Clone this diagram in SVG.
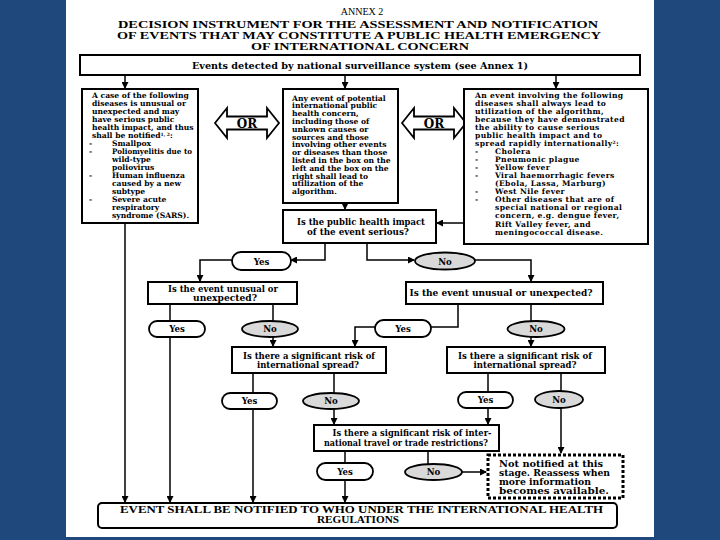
<svg xmlns="http://www.w3.org/2000/svg" width="720" height="540" viewBox="0 0 720 540">
<style>
.bg{fill:#1F497D}
.box{fill:#fff;stroke:#000;stroke-width:2}
.conn{stroke:#000;stroke-width:1.5;fill:none}
.ovy{fill:#fff;stroke:#000;stroke-width:1.8}
.ovn{fill:#d9d9d9;stroke:#000;stroke-width:1.8}
.dot{fill:#fff;stroke:#000;stroke-width:3;stroke-dasharray:3 2}
.orar{fill:#fff;stroke:#000;stroke-width:1.8;stroke-linejoin:miter}
text{font-family:"DejaVu Serif","Liberation Serif",serif;font-weight:bold;fill:#000}
.bt{font-size:7.6px}
.btr{font-size:7.6px;letter-spacing:0.35px}
.q{font-size:8.6px;text-anchor:middle}
.o{font-size:8.6px;text-anchor:middle}
.ttl{font-family:"Liberation Serif",serif;font-size:11px;text-anchor:middle}
.fin{font-family:"Liberation Serif",serif;font-size:9.5px;text-anchor:middle}
.nn{font-size:8.8px}
.or{font-size:12px;text-anchor:middle}
.sup{font-size:4.5px}
</style>
<defs>
<marker id="ah" markerWidth="7" markerHeight="7" refX="6" refY="3.5" orient="auto" markerUnits="userSpaceOnUse">
<path d="M0,0 L7,3.5 L0,7 Z" fill="#000"/>
</marker>
</defs>
<rect x="0" y="0" width="720" height="540" class="bg"/>
<rect x="66" y="0" width="588" height="537" fill="#fff"/>

<g id="title">
<text class="ttl" x="362" y="15" style="font-weight:normal;font-size:10px">ANNEX 2</text>
<text class="ttl" x="358" y="27.5" textLength="480" lengthAdjust="spacingAndGlyphs">DECISION INSTRUMENT FOR THE ASSESSMENT AND NOTIFICATION</text>
<text class="ttl" x="359" y="38.5" textLength="484" lengthAdjust="spacingAndGlyphs">OF EVENTS THAT MAY CONSTITUTE A PUBLIC HEALTH EMERGENCY</text>
<text class="ttl" x="360" y="49.5" textLength="218" lengthAdjust="spacingAndGlyphs">OF INTERNATIONAL CONCERN</text>
</g>

<g id="connectors">
<line class="conn" x1="125" y1="75" x2="125" y2="88" marker-end="url(#ah)"/>
<line class="conn" x1="345" y1="75" x2="345" y2="88" marker-end="url(#ah)"/>
<line class="conn" x1="556" y1="75" x2="556" y2="88" marker-end="url(#ah)"/>
<line class="conn" x1="125" y1="223" x2="125" y2="502" marker-end="url(#ah)"/>
<line class="conn" x1="345" y1="203" x2="345" y2="209" marker-end="url(#ah)"/>
<line class="conn" x1="464" y1="223" x2="437" y2="223" marker-end="url(#ah)"/>
<polyline class="conn" points="325,243 325,260 291,260" marker-end="url(#ah)"/>
<polyline class="conn" points="232,260 200,260 200,281" marker-end="url(#ah)"/>
<polyline class="conn" points="367,243 367,260 414,260" marker-end="url(#ah)"/>
<polyline class="conn" points="475,260 531,260 531,281" marker-end="url(#ah)"/>
<line class="conn" x1="170" y1="304" x2="170" y2="321"/>
<line class="conn" x1="170" y1="337" x2="170" y2="502" marker-end="url(#ah)"/>
<line class="conn" x1="273" y1="304" x2="273" y2="321"/>
<line class="conn" x1="273" y1="337" x2="273" y2="346" marker-end="url(#ah)"/>
<polyline class="conn" points="458,304 458,327 431,327"/>
<polyline class="conn" points="375,327 355,327 355,346" marker-end="url(#ah)"/>
<line class="conn" x1="531" y1="304" x2="531" y2="321"/>
<line class="conn" x1="531" y1="337" x2="531" y2="346" marker-end="url(#ah)"/>
<line class="conn" x1="253" y1="373" x2="253" y2="393"/>
<line class="conn" x1="253" y1="409" x2="253" y2="502" marker-end="url(#ah)"/>
<line class="conn" x1="334" y1="373" x2="334" y2="393"/>
<line class="conn" x1="334" y1="409" x2="334" y2="424" marker-end="url(#ah)"/>
<line class="conn" x1="488" y1="373" x2="488" y2="392"/>
<line class="conn" x1="488" y1="408" x2="488" y2="424" marker-end="url(#ah)"/>
<line class="conn" x1="561" y1="373" x2="561" y2="391"/>
<line class="conn" x1="561" y1="408" x2="561" y2="453" marker-end="url(#ah)"/>
<line class="conn" x1="345" y1="451" x2="345" y2="463"/>
<line class="conn" x1="345" y1="480" x2="345" y2="502" marker-end="url(#ah)"/>
<line class="conn" x1="428" y1="451" x2="428" y2="464"/>
<line class="conn" x1="462" y1="472" x2="486" y2="472" marker-end="url(#ah)"/>
</g>

<g id="top">
<rect class="box" x="80" y="55" width="560" height="20"/>
<text x="360" y="68.5" style="font-size:8.6px;text-anchor:middle" textLength="336" lengthAdjust="spacingAndGlyphs">Events detected by national surveillance system (see Annex 1)</text>
</g>

<g id="left-box">
<rect class="box" x="82" y="89" width="116" height="134"/>
<g class="bt">
<text x="92" y="98">A case of the following</text>
<text x="92" y="106">diseases is unusual or</text>
<text x="92" y="114">unexpected and may</text>
<text x="92" y="122">have serious public</text>
<text x="92" y="130">health impact, and thus</text>
<text x="92" y="138">shall be notified<tspan class="sup" dy="-2.2">1, 2</tspan><tspan dy="2.2">:</tspan></text>
<text x="89" y="146">-</text><text x="112" y="146">Smallpox</text>
<text x="89" y="154">-</text><text x="112" y="154" textLength="80" lengthAdjust="spacingAndGlyphs">Poliomyelitis due to</text>
<text x="112" y="162">wild-type</text>
<text x="112" y="170">poliovirus</text>
<text x="89" y="178">-</text><text x="112" y="178">Human influenza</text>
<text x="112" y="186">caused by a new</text>
<text x="112" y="194">subtype</text>
<text x="89" y="202">-</text><text x="112" y="202">Severe acute</text>
<text x="112" y="210">respiratory</text>
<text x="112" y="218">syndrome (SARS).</text>
</g>
</g>

<g id="or-left">
<polygon class="orar" points="215,123 227,108 227,116.5 267,116.5 267,108 279,123 267,138 267,129.5 227,129.5 227,138"/>
<text class="or" x="247" y="127.5">OR</text>
</g>

<g id="middle-box">
<rect class="box" x="283" y="89" width="115" height="114"/>
<g class="bt">
<text x="292" y="100.5">Any event of potential</text>
<text x="292" y="108.3">international public</text>
<text x="292" y="116.1">health concern,</text>
<text x="292" y="123.9">including those of</text>
<text x="292" y="131.7">unkown causes or</text>
<text x="292" y="139.5">sources and those</text>
<text x="292" y="147.3">involving other events</text>
<text x="292" y="155.1">or diseases than those</text>
<text x="292" y="162.9">listed in the box on the</text>
<text x="292" y="170.7">left and the box on the</text>
<text x="292" y="178.5">right shall lead to</text>
<text x="292" y="186.3">utilization of the</text>
<text x="292" y="194.1">algorithm.</text>
</g>
</g>

<g id="or-right">
<polygon class="orar" points="402,123 414,108 414,116.5 454,116.5 454,108 466,123 454,138 454,129.5 414,129.5 414,138"/>
<text class="or" x="434" y="127.5">OR</text>
</g>

<g id="right-box">
<rect class="box" x="464" y="89" width="184" height="155"/>
<g class="btr">
<text x="475" y="97.5">An event involving the following</text>
<text x="475" y="105.6">diseases shall always lead to</text>
<text x="475" y="113.6">utilization of the algorithm,</text>
<text x="475" y="121.7">because they have demonstrated</text>
<text x="475" y="129.7">the ability to cause serious</text>
<text x="475" y="137.8">public health impact and to</text>
<text x="475" y="145.9">spread rapidly internationally<tspan class="sup" dy="-2.2">2</tspan><tspan dy="2.2">:</tspan></text>
<text x="475" y="153.9">-</text><text x="495" y="153.9">Cholera</text>
<text x="475" y="162">-</text><text x="495" y="162">Pneumonic plague</text>
<text x="475" y="170">-</text><text x="495" y="170">Yellow fever</text>
<text x="475" y="178.1">-</text><text x="495" y="178.1">Viral haemorrhagic fevers</text>
<text x="495" y="186.2">(Ebola, Lassa, Marburg)</text>
<text x="475" y="194.2">-</text><text x="495" y="194.2">West Nile fever</text>
<text x="475" y="202.3">-</text><text x="495" y="202.3">Other diseases that are of</text>
<text x="495" y="210.3">special national or regional</text>
<text x="495" y="218.4">concern, e.g. dengue fever,</text>
<text x="495" y="226.5">Rift Valley fever, and</text>
<text x="495" y="234.5">meningococcal disease.</text>
</g>
</g>

<g id="q-impact">
<rect class="box" x="283" y="210" width="153" height="33"/>
<text class="q" x="361" y="224.5" textLength="128" lengthAdjust="spacingAndGlyphs">Is the public health impact</text>
<text class="q" x="358" y="235" textLength="102" lengthAdjust="spacingAndGlyphs">of the event serious?</text>
</g>

<g id="yes-1"><rect class="ovy" x="232" y="252" width="59" height="18" rx="9"/><text class="o" x="261.5" y="264.5">Yes</text></g>
<g id="no-1"><ellipse class="ovn" cx="445" cy="261" rx="30" ry="8.5"/><text class="o" x="445" y="264.5">No</text></g>

<g id="q-unusual-left">
<rect class="box" x="148" y="282" width="149" height="22"/>
<text class="q" x="223" y="291.5" textLength="110" lengthAdjust="spacingAndGlyphs">Is the event unusual or</text>
<text class="q" x="225" y="301" textLength="64" lengthAdjust="spacingAndGlyphs">unexpected?</text>
</g>

<g id="q-unusual-right">
<rect class="box" x="406" y="282" width="197" height="22"/>
<text class="q" x="501" y="296" textLength="183" lengthAdjust="spacingAndGlyphs">Is the event unusual or unexpected?</text>
</g>

<g id="yes-2"><rect class="ovy" x="149" y="321" width="56" height="16" rx="8"/><text class="o" x="177" y="332">Yes</text></g>
<g id="no-2"><ellipse class="ovn" cx="270" cy="329" rx="28" ry="8"/><text class="o" x="270" y="332">No</text></g>
<g id="yes-3"><rect class="ovy" x="375" y="320" width="56" height="17" rx="8.5"/><text class="o" x="403" y="331.5">Yes</text></g>
<g id="no-3"><ellipse class="ovn" cx="536" cy="329" rx="28.5" ry="8"/><text class="o" x="536" y="332">No</text></g>

<g id="q-spread-left">
<rect class="box" x="232" y="347" width="154" height="26"/>
<text class="q" x="309" y="358.5" textLength="132" lengthAdjust="spacingAndGlyphs">Is there a significant risk of</text>
<text class="q" x="308" y="367.5" textLength="102" lengthAdjust="spacingAndGlyphs">international spread?</text>
</g>

<g id="q-spread-right">
<rect class="box" x="447" y="347" width="158" height="26"/>
<text class="q" x="525" y="358.5" textLength="134" lengthAdjust="spacingAndGlyphs">Is there a significant risk of</text>
<text class="q" x="525" y="367.5" textLength="103" lengthAdjust="spacingAndGlyphs">international spread?</text>
</g>

<g id="yes-4"><rect class="ovy" x="222" y="393" width="55" height="16" rx="8"/><text class="o" x="249.5" y="404">Yes</text></g>
<g id="no-4"><ellipse class="ovn" cx="331" cy="401" rx="28" ry="8"/><text class="o" x="331" y="404">No</text></g>
<g id="yes-5"><rect class="ovy" x="458" y="392" width="55" height="16" rx="8"/><text class="o" x="485.5" y="403">Yes</text></g>
<g id="no-5"><ellipse class="ovn" cx="559" cy="399.5" rx="24" ry="8.5"/><text class="o" x="559" y="403">No</text></g>

<g id="q-travel">
<rect class="box" x="314" y="425" width="185" height="26"/>
<text class="q" x="412" y="436" textLength="159" lengthAdjust="spacingAndGlyphs">Is there a significant risk of inter-</text>
<text class="q" x="406" y="446" textLength="164" lengthAdjust="spacingAndGlyphs">national travel or trade restrictions?</text>
</g>

<g id="yes-6"><rect class="ovy" x="317" y="463" width="56" height="17" rx="8.5"/><text class="o" x="345" y="474.5">Yes</text></g>
<g id="no-6"><ellipse class="ovn" cx="433.5" cy="472" rx="28.5" ry="8"/><text class="o" x="433.5" y="475">No</text></g>

<g id="not-notified">
<rect class="dot" x="488" y="455" width="135" height="43"/>
<text class="nn" x="499" y="466.5" textLength="104" lengthAdjust="spacingAndGlyphs">Not notified at this</text>
<text class="nn" x="499" y="475.5" textLength="111" lengthAdjust="spacingAndGlyphs">stage. Reassess when</text>
<text class="nn" x="499" y="484.5" textLength="92" lengthAdjust="spacingAndGlyphs">more information</text>
<text class="nn" x="499" y="493.5" textLength="110" lengthAdjust="spacingAndGlyphs">becomes available.</text>
</g>

<g id="final">
<rect class="box" x="98" y="503" width="519" height="25" rx="4"/>
<text class="fin" x="361.5" y="512.5" textLength="483" lengthAdjust="spacingAndGlyphs">EVENT SHALL BE NOTIFIED TO WHO UNDER THE INTERNATIONAL HEALTH</text>
<text class="fin" x="358" y="522.5" textLength="82" lengthAdjust="spacingAndGlyphs">REGULATIONS</text>
</g>
</svg>
